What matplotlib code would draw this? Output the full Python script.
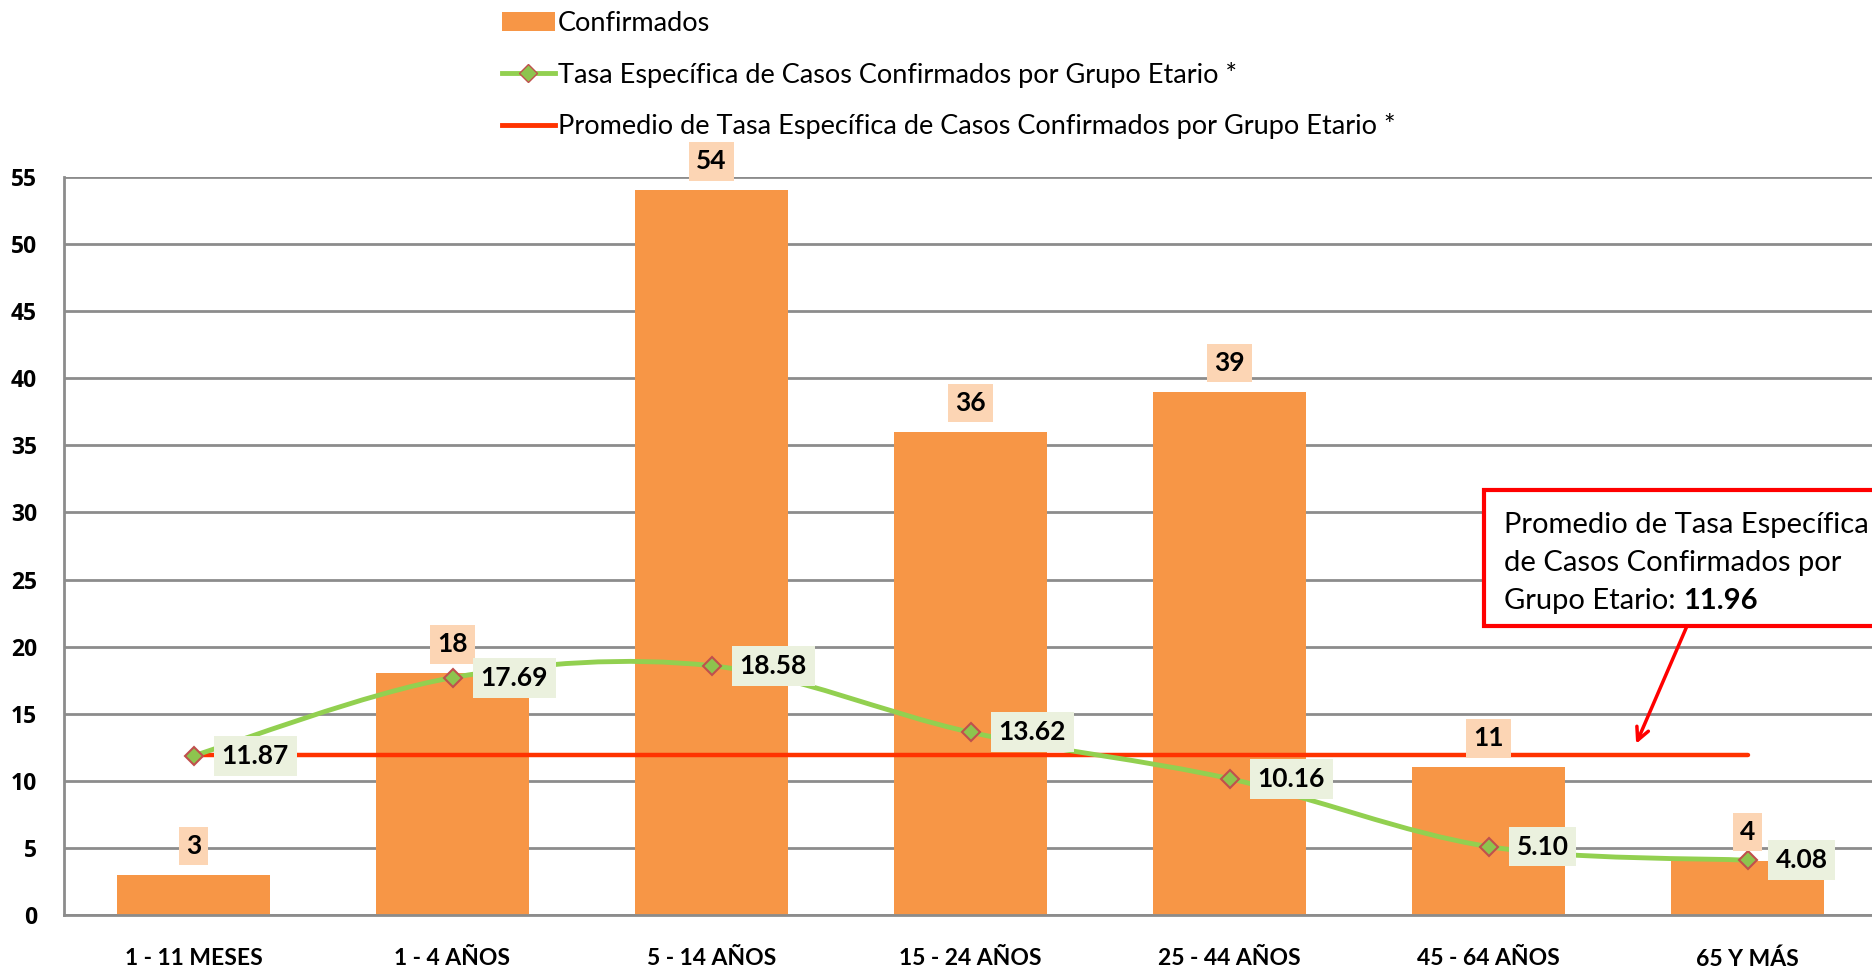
import numpy as np
import matplotlib
matplotlib.use('Agg')
import matplotlib.pyplot as plt
from matplotlib.path import Path
from matplotlib.patches import PathPatch, Rectangle, Patch
from matplotlib.lines import Line2D
from matplotlib.text import Annotation

categories = ['1 - 11 MESES', '1 - 4 AÑOS', '5 - 14 AÑOS', '15 - 24 AÑOS',
              '25 - 44 AÑOS', '45 - 64 AÑOS', '65 Y MÁS']
confirmados = [3, 18, 54, 36, 39, 11, 4]
tasa = [11.87, 17.69, 18.58, 13.62, 10.16, 5.10, 4.08]
promedio = 11.96
yticks = [0, 5, 10, 15, 20, 25, 30, 35, 40, 45, 50, 55]

BAR = '#F79646'
GREEN = '#92D050'
AVG = '#FF3300'
GRID = '#8C8C8C'
FONT = 'Lato'

W, H = 1872, 968
fig = plt.figure(figsize=(W / 100, H / 100), dpi=100)
ax = fig.add_axes([64 / W, 53 / H, 1813 / W, 738 / H])

x = np.arange(len(categories))
ax.bar(x, confirmados, width=0.59, color=BAR, zorder=2)

# average line across categories
ax.plot([x[0], x[-1]], [promedio, promedio], color=AVG, lw=3.2,
        solid_capstyle='round', zorder=3)

# smoothed line (bezier through the points, Excel-like)
pts = np.column_stack([x, tasa]).astype(float)
verts = [tuple(pts[0])]
codes = [Path.MOVETO]
n = len(pts)
for i in range(n - 1):
    p0 = pts[i - 1] if i > 0 else pts[i]
    p1 = pts[i]
    p2 = pts[i + 1]
    p3 = pts[i + 2] if i + 2 < n else pts[i + 1]
    c1 = p1 + (p2 - p0) / 6.0
    c2 = p2 - (p3 - p1) / 6.0
    verts += [tuple(c1), tuple(c2), tuple(p2)]
    codes += [Path.CURVE4] * 3
ax.add_patch(PathPatch(Path(verts, codes), facecolor='none', edgecolor=GREEN,
                       lw=3.5, zorder=4))
ax.plot(x, tasa, linestyle='none', marker='D', markersize=9,
        markerfacecolor='#8DC44E', markeredgecolor='#C0504D',
        markeredgewidth=1.5, zorder=5)

# data labels
for xi, v in zip(x, confirmados):
    ax.annotate(str(v), (xi, v), xytext=(0, 29), textcoords='offset pixels',
                ha='center', va='center', fontsize=19, fontweight='bold',
                family=FONT, zorder=6,
                bbox=dict(boxstyle='square,pad=0.27', fc='#FCD5B4', ec='none'))
for xi, v in zip(x, tasa):
    ax.annotate(f'{v:.2f}', (xi, v), xytext=(28, 0), textcoords='offset pixels',
                ha='left', va='center', fontsize=19, fontweight='bold',
                family=FONT, zorder=7,
                bbox=dict(boxstyle='square,pad=0.3', fc='#EBF1DE', ec='none'))

ax.set_xlim(-0.5, 6.5)
ax.set_ylim(0, 55)
ax.set_yticks(yticks)
ax.set_xticks(x)
ax.set_xticklabels(categories, fontsize=16.5, fontweight='bold', family=FONT)
for t in ax.get_yticklabels():
    t.set_fontsize(16.5)
    t.set_fontweight('bold')
    t.set_family('Open Sans')
ax.tick_params(axis='y', length=0, pad=19.5)
ax.tick_params(axis='x', length=0, pad=24)
ax.yaxis.grid(True, color=GRID, lw=2)
ax.set_axisbelow(True)
for s in ['top', 'right']:
    ax.spines[s].set_visible(False)
ax.spines['left'].set_color(GRID)
ax.spines['left'].set_linewidth(2)
ax.spines['bottom'].set_color(GRID)
ax.spines['bottom'].set_linewidth(2)

# legend
handles = [
    Patch(facecolor=BAR, edgecolor='none'),
    Line2D([], [], color=GREEN, lw=3.5, marker='D', markersize=9,
           markerfacecolor='#8DC44E', markeredgecolor='#C0504D'),
    Line2D([], [], color=AVG, lw=3.5),
]
labels = ['Confirmados',
          'Tasa Específica de Casos Confirmados por Grupo Etario *',
          'Promedio de Tasa Específica de Casos Confirmados por Grupo Etario *']
fig.legend(handles, labels, loc='upper left', bbox_to_anchor=(502 / W, 1 - 11 / H),
           frameon=False, prop={'family': FONT, 'size': 19.5},
           handlelength=1.95, handletextpad=0.12, labelspacing=0.95,
           borderaxespad=0, borderpad=0)

# annotation box for the average
fig.patches.append(Rectangle((1484 / W, 1 - 626 / H), 500 / W, 136 / H,
                             transform=fig.transFigure, fill=True, fc='white',
                             ec='#FF0000', lw=3, zorder=10))
box_lines = ['Promedio de Tasa Específica', 'de Casos Confirmados por']
for k, line in enumerate(box_lines):
    fig.text(1504 / W, 1 - (525 + 38 * k) / H, line, fontsize=21, family=FONT,
             va='center', ha='left', zorder=11)
t3 = fig.text(1504 / W, 1 - 601 / H, 'Grupo Etario: ', fontsize=21, family=FONT,
              va='center', ha='left', zorder=11)
fig.add_artist(Annotation(f'{promedio:.2f}', xy=(1, 0.5), xycoords=t3,
                          va='center', ha='left', fontsize=21,
                          fontweight='bold', family=FONT, zorder=12))
ax.annotate('', xy=(5.57, promedio + 0.8), xycoords='data',
            xytext=(1687 / W, 1 - 626 / H), textcoords='figure fraction',
            arrowprops=dict(arrowstyle='->,head_length=0.9,head_width=0.45',
                            color='#FF0000', lw=2.5, shrinkA=0, shrinkB=0),
            annotation_clip=False)

fig.savefig('out.png', dpi=100)
